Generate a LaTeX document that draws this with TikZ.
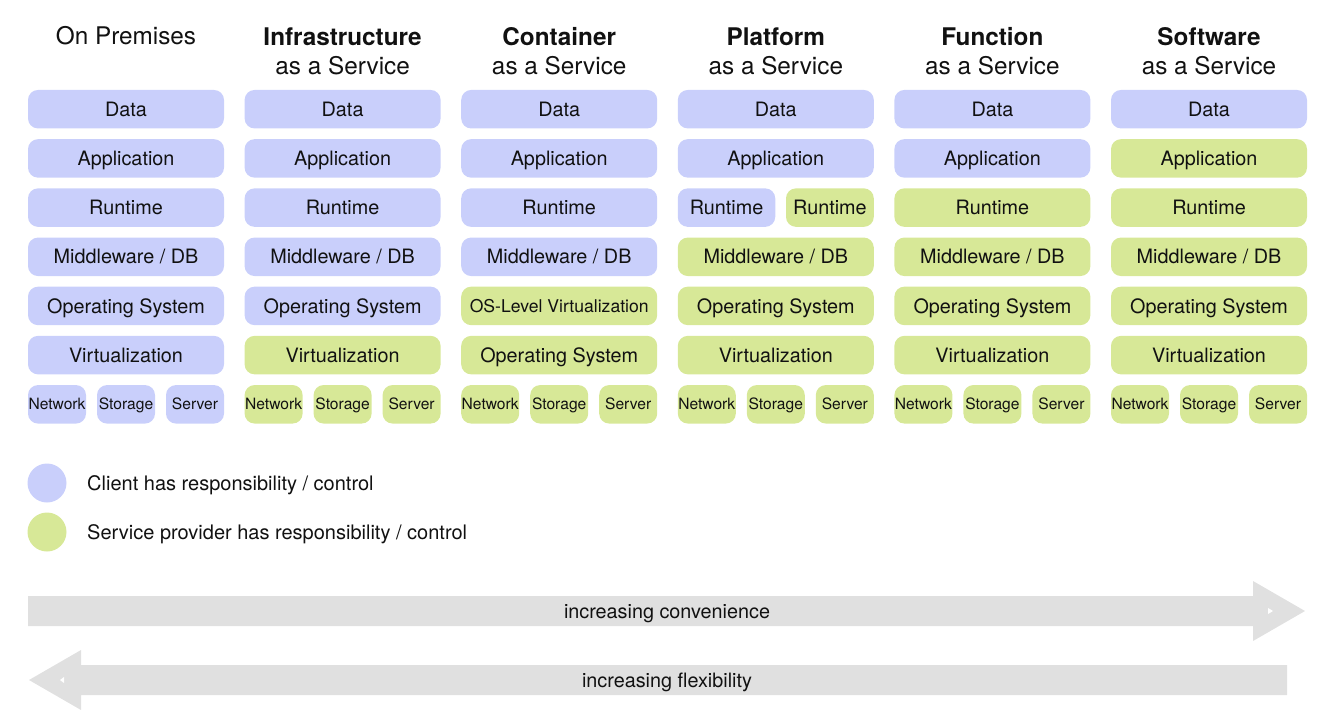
\documentclass[tikz,border=0pt]{standalone}
\usepackage{fontspec}
\setmainfont{TeX Gyre Heros}
\definecolor{clientblue}{RGB}{201,207,251}
\definecolor{provgreen}{RGB}{215,232,151}
\definecolor{arrowgray}{RGB}{224,224,224}
\definecolor{txt}{RGB}{17,17,17}
\tikzset{
  cell/.style={rounded corners=10pt, inner sep=0pt, minimum height=38.5pt, minimum width=196pt, text=txt, font=\fontsize{19.8}{23}\selectfont, text height=14.2pt, text depth=0pt},
  small/.style={cell, minimum width=58pt, font=\fontsize{15.6}{18}\selectfont, text height=11.2pt},
  cb/.style={fill=clientblue},
  cg/.style={fill=provgreen},
  head/.style={align=center, text=txt, font=\fontsize{24.3}{29}\selectfont},
  legtext/.style={anchor=west, inner sep=0pt, text=txt, font=\fontsize{20}{24}\selectfont, text height=14.4pt, text depth=0pt},
  arrowlabel/.style={inner sep=0pt, text=txt, font=\fontsize{19.8}{24}\selectfont, text height=14.2pt, text depth=0pt}
}
\begin{document}
\begin{tikzpicture}[x=1pt,y=-1pt]
\useasboundingbox (0,0) rectangle (1335,715);
% headings
\node[head] (h1) at (126,36) {On Premises};
\node[head] (h2) at (342.6,51.5) {\textbf{Infrastructure}\\as a Service};
\node[head] (h3) at (559.2,51.5) {\textbf{Container}\\as a Service};
\node[head] (h4) at (775.8,51.5) {\textbf{Platform}\\as a Service};
\node[head] (h5) at (992.4,51.5) {\textbf{Function}\\as a Service};
\node[head] (h6) at (1209,51.5) {\textbf{Software}\\as a Service};
% column 1: On Premises
\node[cell,cb] (c1r1) at (126,109.2) {Data};
\node[cell,cb] (c1r2) at (126,158.4) {Application};
\node[cell,cb] (c1r3) at (126,207.6) {Runtime};
\node[cell,cb] (c1r4) at (126,256.8) {Middleware / DB};
\node[cell,cb] (c1r5) at (126,305.9) {Operating System};
\node[cell,cb] (c1r6) at (126,355.1) {Virtualization};
\node[small,cb] (c1n) at (57,404.3) {Network};
\node[small,cb] (c1s) at (126,404.3) {Storage};
\node[small,cb] (c1v) at (195,404.3) {Server};
% column 2: IaaS
\node[cell,cb] (c2r1) at (342.6,109.2) {Data};
\node[cell,cb] (c2r2) at (342.6,158.4) {Application};
\node[cell,cb] (c2r3) at (342.6,207.6) {Runtime};
\node[cell,cb] (c2r4) at (342.6,256.8) {Middleware / DB};
\node[cell,cb] (c2r5) at (342.6,305.9) {Operating System};
\node[cell,cg] (c2r6) at (342.6,355.1) {Virtualization};
\node[small,cg] (c2n) at (273.6,404.3) {Network};
\node[small,cg] (c2s) at (342.6,404.3) {Storage};
\node[small,cg] (c2v) at (411.6,404.3) {Server};
% column 3: CaaS
\node[cell,cb] (c3r1) at (559.2,109.2) {Data};
\node[cell,cb] (c3r2) at (559.2,158.4) {Application};
\node[cell,cb] (c3r3) at (559.2,207.6) {Runtime};
\node[cell,cb] (c3r4) at (559.2,256.8) {Middleware / DB};
\node[cell,cg,font=\fontsize{17.6}{21}\selectfont,text height=12.6pt] (c3r5) at (559.2,305.9) {OS-Level Virtualization};
\node[cell,cg] (c3r6) at (559.2,355.1) {Operating System};
\node[small,cg] (c3n) at (490.2,404.3) {Network};
\node[small,cg] (c3s) at (559.2,404.3) {Storage};
\node[small,cg] (c3v) at (628.2,404.3) {Server};
% column 4: PaaS
\node[cell,cb] (c4r1) at (775.8,109.2) {Data};
\node[cell,cb] (c4r2) at (775.8,158.4) {Application};
\node[cell,cb,minimum width=97.5pt] (c4r3a) at (726.5,207.6) {Runtime};
\node[cell,cg,minimum width=87.8pt] (c4r3b) at (829.9,207.6) {Runtime};
\node[cell,cg] (c4r4) at (775.8,256.8) {Middleware / DB};
\node[cell,cg] (c4r5) at (775.8,305.9) {Operating System};
\node[cell,cg] (c4r6) at (775.8,355.1) {Virtualization};
\node[small,cg] (c4n) at (706.8,404.3) {Network};
\node[small,cg] (c4s) at (775.8,404.3) {Storage};
\node[small,cg] (c4v) at (844.8,404.3) {Server};
% column 5: FaaS
\node[cell,cb] (c5r1) at (992.4,109.2) {Data};
\node[cell,cb] (c5r2) at (992.4,158.4) {Application};
\node[cell,cg] (c5r3) at (992.4,207.6) {Runtime};
\node[cell,cg] (c5r4) at (992.4,256.8) {Middleware / DB};
\node[cell,cg] (c5r5) at (992.4,305.9) {Operating System};
\node[cell,cg] (c5r6) at (992.4,355.1) {Virtualization};
\node[small,cg] (c5n) at (923.4,404.3) {Network};
\node[small,cg] (c5s) at (992.4,404.3) {Storage};
\node[small,cg] (c5v) at (1061.4,404.3) {Server};
% column 6: SaaS
\node[cell,cb] (c6r1) at (1209,109.2) {Data};
\node[cell,cg] (c6r2) at (1209,158.4) {Application};
\node[cell,cg] (c6r3) at (1209,207.6) {Runtime};
\node[cell,cg] (c6r4) at (1209,256.8) {Middleware / DB};
\node[cell,cg] (c6r5) at (1209,305.9) {Operating System};
\node[cell,cg] (c6r6) at (1209,355.1) {Virtualization};
\node[small,cg] (c6n) at (1140,404.3) {Network};
\node[small,cg] (c6s) at (1209,404.3) {Storage};
\node[small,cg] (c6v) at (1278,404.3) {Server};
% legend
\node[circle,fill=clientblue,minimum size=39pt,inner sep=0pt] (lb) at (47,483) {};
\node[circle,fill=provgreen,minimum size=39pt,inner sep=0pt] (lg) at (47,532) {};
\node[legtext] (lbt) at (87,483.5) {Client has responsibility / control};
\node[legtext] (lgt) at (87,532.5) {Service provider has responsibility / control};
% arrows
\fill[arrowgray] (28,596) -- (1253,596) -- (1253,581) -- (1305,611) -- (1253,641) -- (1253,626) -- (28,626) -- cycle;
\fill[white] (1268,608) -- (1273,611) -- (1268,614) -- cycle;
\node[arrowlabel] (conv) at (667,611) {increasing convenience};
\fill[arrowgray] (1287,665) -- (81,665) -- (81,650) -- (29,680) -- (81,710) -- (81,695) -- (1287,695) -- cycle;
\fill[white] (64,677) -- (60,680) -- (64,683) -- cycle;
\node[arrowlabel] (flex) at (667,680) {increasing flexibility};
\end{tikzpicture}
\end{document}
